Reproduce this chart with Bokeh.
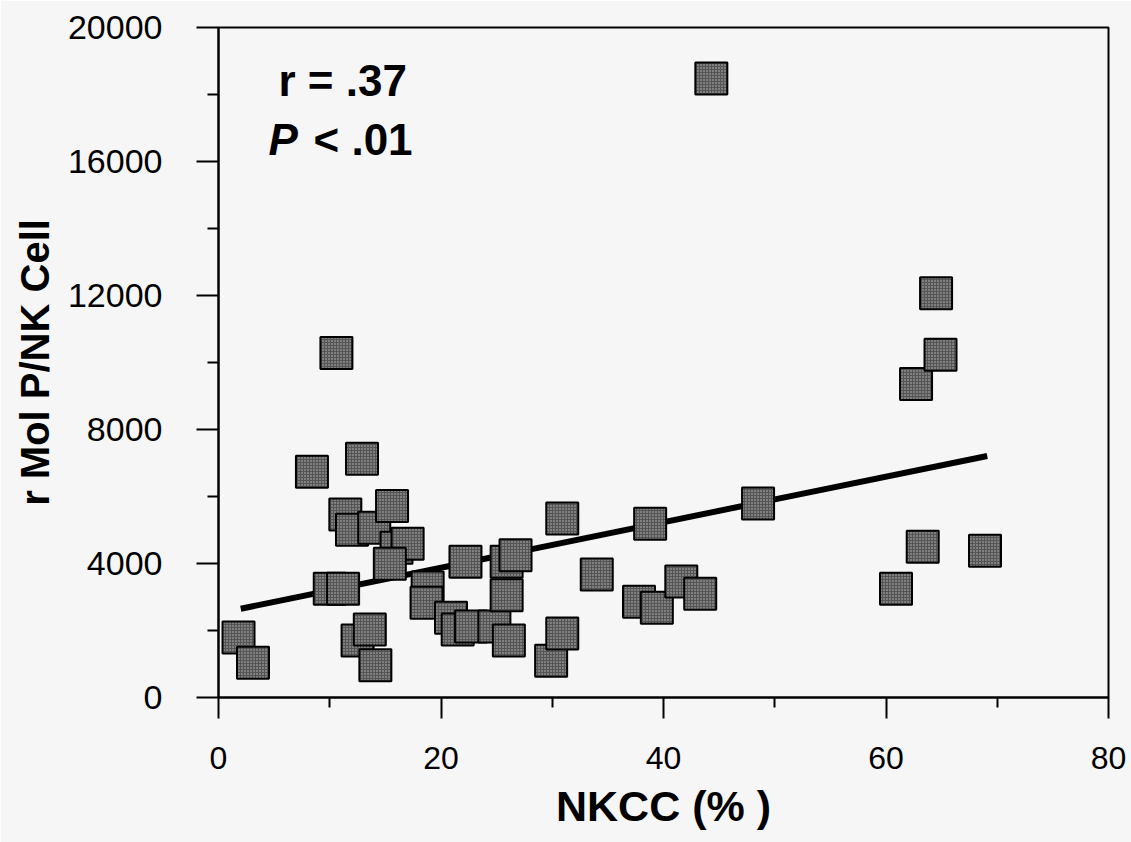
from bokeh.plotting import figure
from bokeh.models import Range1d, FixedTicker
from bokeh.core.properties import value
from bokeh.embed import file_html
from bokeh.resources import INLINE

# ---- data ----
nkcc = [1.8, 3.1, 8.4, 10.6, 10.0, 11.2, 12.9, 11.4, 12.0, 14.0, 15.6, 16.0, 17.0, 15.4,
        12.5, 13.6, 14.1, 18.8, 18.7, 20.9, 21.5, 22.7, 22.2, 24.8, 25.9, 26.7, 25.9,
        26.1, 29.9, 30.9, 30.9, 34.0, 37.8, 39.4, 38.8, 41.6, 43.3, 44.3, 48.5, 60.9,
        62.7, 63.3, 64.5, 64.9, 68.9]
rmol = [1790, 1040, 6740, 10280, 3250, 3250, 7130, 5460, 5010, 5070, 5720, 4470, 4590, 3990,
        1700, 2030, 960, 3280, 2830, 2380, 2030, 2120, 4050, 2120, 4050, 4250, 3050,
        1700, 1100, 1910, 5340, 3670, 2860, 2680, 5190, 3460, 3100, 18480, 5790, 3250,
        9360, 4500, 12070, 10230, 4380]
fit_x = [2.0, 69.1]
fit_y = [2650, 7210]
x_ticks = [0, 20, 40, 60, 80]
y_ticks = [0, 4000, 8000, 12000, 16000, 20000]

BG = "#f6f6f6"
FONT = "Liberation Sans"

p = figure(width=1131, height=842, output_backend="svg", toolbar_location=None,
           x_range=Range1d(0, 80), y_range=Range1d(0, 20000),
           min_border_left=218, min_border_right=23, min_border_top=27,
           min_border_bottom=145)
p.background_fill_color = BG
p.border_fill_color = BG
p.outline_line_color = "black"
p.outline_line_width = 2
p.grid.visible = False

for ax in (p.xaxis[0], p.yaxis[0]):
    ax.axis_line_color = "black"
    ax.axis_line_width = 2
    ax.major_tick_line_color = "black"
    ax.major_tick_line_width = 2
    ax.minor_tick_line_color = "black"
    ax.minor_tick_line_width = 2
    ax.major_tick_in = 0
    ax.minor_tick_in = 0
    ax.major_label_text_font = FONT
    ax.major_label_text_color = "black"
    ax.axis_label_text_font = FONT
    ax.axis_label_text_font_style = "bold"
    ax.axis_label_text_color = "black"

p.xaxis.ticker = FixedTicker(ticks=x_ticks, minor_ticks=[10, 30, 50, 70])
p.yaxis.ticker = FixedTicker(ticks=y_ticks,
                             minor_ticks=[2000, 6000, 10000, 14000, 18000])
p.xaxis.major_tick_out = 21
p.xaxis.minor_tick_out = 10
p.yaxis.major_tick_out = 22
p.yaxis.minor_tick_out = 11
p.xaxis.major_label_text_font_size = "32px"
p.yaxis.major_label_text_font_size = "34px"
p.xaxis.major_label_standoff = 28
p.yaxis.major_label_standoff = 34
p.xaxis.axis_label = "NKCC (% )"
p.yaxis.axis_label = "r Mol P/NK Cell"
p.xaxis.axis_label_text_font_size = "43px"
p.yaxis.axis_label_text_font_size = "40px"
p.xaxis.axis_label_standoff = 10
p.yaxis.axis_label_standoff = 8

p.line(fit_x, fit_y, line_color="black", line_width=6)
p.scatter(nkcc, rmol, marker="square", size=32, fill_color="#555555",
          hatch_pattern="dot", hatch_color="#bdbdbd", hatch_scale=3, hatch_weight=1,
          line_color="black", line_width=2)

p.text(x=[5.39], y=[18420], text=["r = .37"], text_font=value(FONT),
       text_font_size="44px", text_font_style="bold", text_align="left",
       text_baseline="middle", text_color="black")
p.text(x=[4.49], y=[16660], text=["P"], text_font=value(FONT),
       text_font_size="44px", text_font_style="bold italic", text_align="left",
       text_baseline="middle", text_color="black")
p.text(x=[8.54], y=[16660], text=["< .01"], text_font=value(FONT),
       text_font_size="44px", text_font_style="bold", text_align="left",
       text_baseline="middle", text_color="black")

open("out.html", "w").write(file_html(p, INLINE))
